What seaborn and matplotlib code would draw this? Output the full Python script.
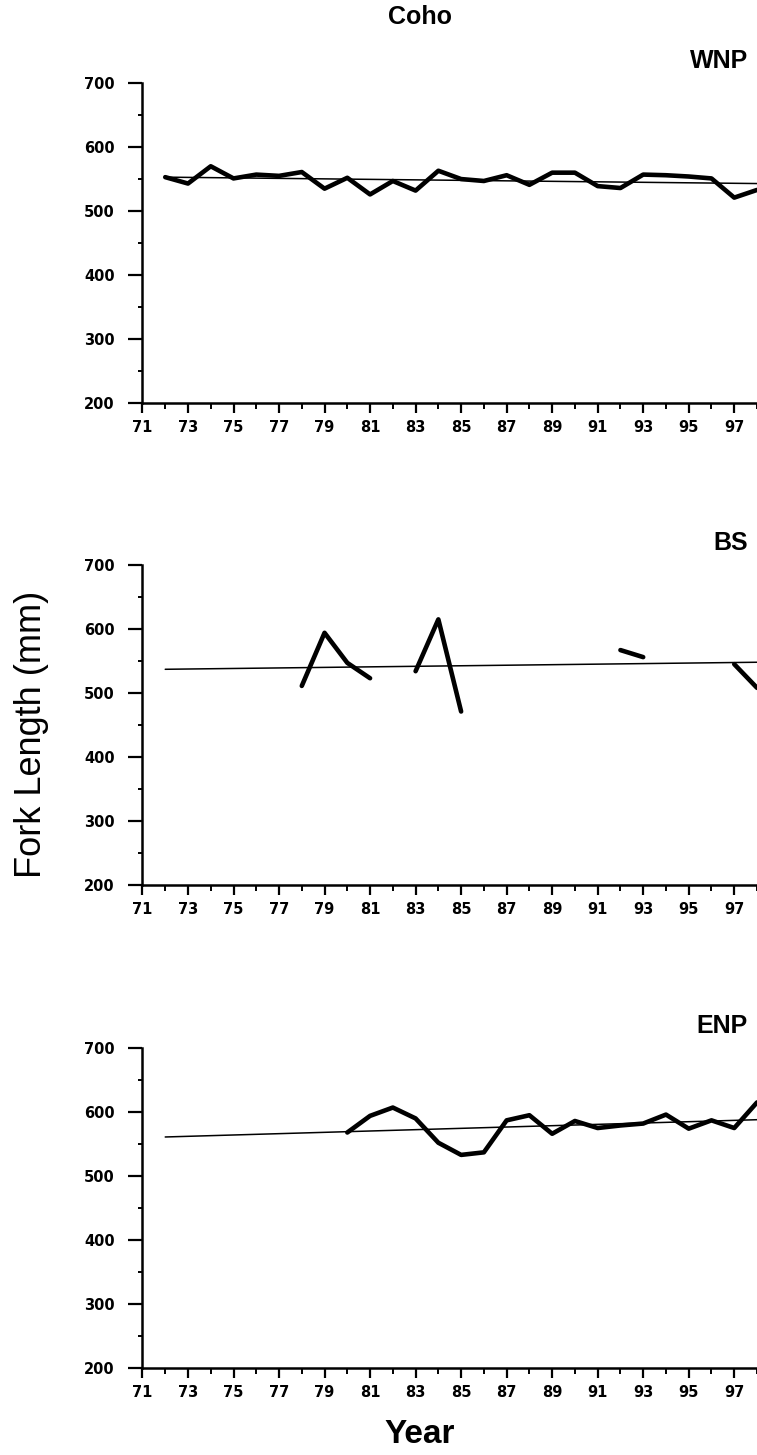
import matplotlib
matplotlib.use("Agg")
import matplotlib.pyplot as plt
from matplotlib.ticker import MultipleLocator
import pandas as pd
import seaborn as sns

# --- data ---
WNP_YEARS = list(range(72, 99))
WNP_FL = [553, 543, 570, 551, 557, 555, 561, 535, 552, 526, 547, 532, 563, 550,
          547, 556, 541, 560, 560, 539, 536, 557, 556, 554, 551, 521, 533]

BS_YEARS = [78, 79, 80, 81, 83, 84, 85, 92, 93, 97, 98]
BS_FL = [511, 594, 547, 523, 534, 615, 471, 567, 556, 545, 508]
BS_SEG = [1, 1, 1, 1, 2, 2, 2, 3, 3, 4, 4]

ENP_YEARS = list(range(80, 99))
ENP_FL = [568, 594, 607, 590, 552, 533, 537, 587, 595, 566, 586, 575, 579,
          582, 596, 574, 587, 575, 615]

TREND_YEARS = [72, 98]
WNP_TREND = [553, 543]
BS_TREND = [537, 548]
ENP_TREND = [561, 588]

YEAR_TICKS = list(range(71, 98, 2))
FL_TICKS = [200, 300, 400, 500, 600, 700]

sns.set_style("ticks")
plt.rcParams["font.family"] = ["DejaVu Sans"]
plt.rcParams["text.color"] = "black"
plt.rcParams["xtick.color"] = "black"
plt.rcParams["ytick.color"] = "black"
plt.rcParams["axes.labelcolor"] = "black"

fig = plt.figure(figsize=(7.57, 14.55), dpi=100)

panels = [
    ("WNP", WNP_YEARS, WNP_FL, [1] * len(WNP_FL), WNP_TREND, 0.7230),
    ("BS", BS_YEARS, BS_FL, BS_SEG, BS_TREND, 0.3918),
    ("ENP", ENP_YEARS, ENP_FL, [1] * len(ENP_FL), ENP_TREND, 0.0598),
]

title_font = dict(family=["Liberation Sans", "DejaVu Sans"], weight="bold")

for name, years, fl, seg, trend, bottom in panels:
    ax = fig.add_axes([0.1882, bottom, 0.8118, 0.2199])
    df = pd.DataFrame({"year": years, "fl": fl, "seg": seg})
    tr = pd.DataFrame({"year": TREND_YEARS, "fl": trend})

    sns.lineplot(data=tr, x="year", y="fl", color="black", linewidth=1.1, ax=ax)
    sns.lineplot(data=df, x="year", y="fl", units="seg", estimator=None,
                 color="black", linewidth=3.3, ax=ax)

    ax.set_xlim(71, 98)
    ax.set_ylim(200, 700)
    ax.set_xticks(YEAR_TICKS)
    ax.set_xticklabels([str(y) for y in YEAR_TICKS])
    ax.set_yticks(FL_TICKS)
    ax.set_yticklabels([str(v) for v in FL_TICKS])
    ax.xaxis.set_minor_locator(MultipleLocator(1))
    ax.yaxis.set_minor_locator(MultipleLocator(50))
    ax.set_xlabel("")
    ax.set_ylabel("")

    for s in ["top", "right"]:
        ax.spines[s].set_visible(False)
    for s in ["left", "bottom"]:
        ax.spines[s].set_linewidth(1.8)
        ax.spines[s].set_color("black")

    ax.tick_params(axis="y", which="major", length=10, width=1.6, pad=10)
    ax.tick_params(axis="y", which="minor", length=3, width=1.4)
    ax.tick_params(axis="x", which="major", length=7, width=1.6, pad=5)
    ax.tick_params(axis="x", which="minor", length=4, width=1.4)
    for lab in ax.get_xticklabels() + ax.get_yticklabels():
        lab.set_fontsize(10.5)
        lab.set_fontweight("bold")

    ax.text(0.985, 1.03, name, transform=ax.transAxes, ha="right", va="bottom",
            fontsize=18, **title_font)

fig.text(0.555, 0.988, "Coho", ha="center", va="center", fontsize=18, **title_font)
fig.text(0.555, 0.014, "Year", ha="center", va="center", fontsize=24, **title_font)
fig.text(0.041, 0.495, "Fork Length (mm)", rotation=90, ha="center", va="center",
         fontsize=26, family=["Liberation Sans Narrow", "Liberation Sans", "DejaVu Sans"])

fig.savefig("out.png", dpi=100)
